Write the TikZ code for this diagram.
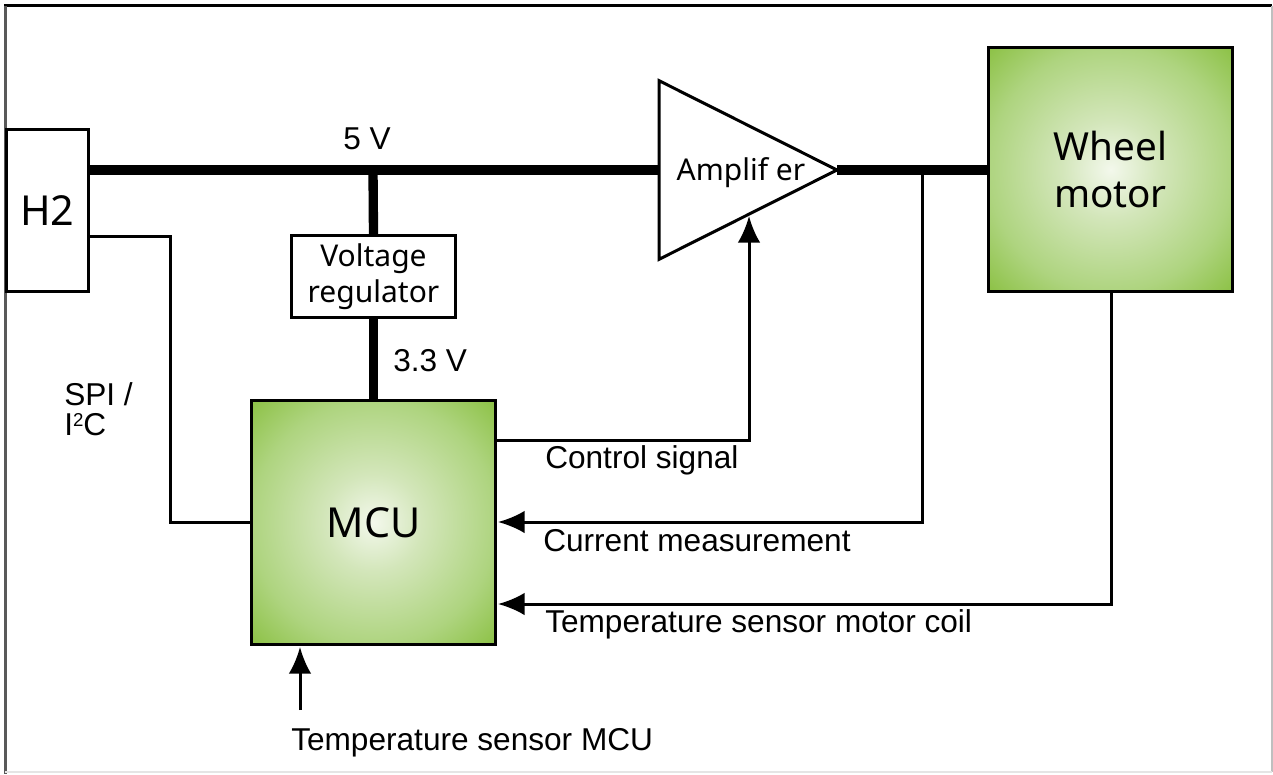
\documentclass[tikz,border=0pt]{standalone}
\usepackage{fontspec}
\setmainfont{Liberation Sans}
\newfontfamily\blockfont{Noto Sans}
\usetikzlibrary{shapes.geometric, arrows.meta, positioning, calc}
\definecolor{glow0}{HTML}{F3F8EC}
\definecolor{glow1}{HTML}{D3E6BA}
\definecolor{glow2}{HTML}{AED47F}
\definecolor{glow3}{HTML}{8CC145}
\pgfdeclareradialshading{greenglow}{\pgfpointorigin}{color(0bp)=(glow0); color(10bp)=(glow1); color(25bp)=(glow2); color(35.4bp)=(glow3); color(50bp)=(glow3)}
\tikzstyle{plainblock} = [rectangle, draw=black, line width=2.25pt, inner sep=0pt, align=center, fill=white]
\tikzstyle{greenblock} = [plainblock, shading=greenglow, minimum width=183pt, minimum height=183pt, font=\blockfont\fontsize{31}{35}\selectfont]
\tikzstyle{label} = [inner sep=0pt, anchor=west, font=\fontsize{23.7}{27}\selectfont]
\tikzstyle{power} = [line width=7pt]
\tikzstyle{signal} = [line width=2.25pt]
\tikzstyle{arrow} = [signal,-{Latex[length=20pt,width=17pt]}]

\begin{document}
\begin{tikzpicture}[x=0.75pt, y=-0.75pt]
\useasboundingbox (0,0) rectangle (1273,774);

% Frame
\draw [line width=2.25pt, black] (4,6) -- (1272,6);
\draw [line width=2.25pt, black!65] (5,6) -- (5,774);
\draw [line width=2pt, black!25] (1272,6) -- (1272,772);
\draw [line width=1.5pt, black!10] (5,772) -- (1272,772);

% Blocks
\node (mcu) [greenblock] at (373.5,522.5) {MCU};
\node (regulator) [plainblock, above=60pt of mcu, minimum width=123pt, minimum height=61.5pt, font=\fontsize{22.5}{27}\selectfont\blockfont] {Voltage\\regulator};
\node (h2) [plainblock, minimum width=61pt, minimum height=122pt, font=\blockfont\fontsize{31}{35}\selectfont] at (47.5,210.5) {H2};
\node (motor) [greenblock, font=\blockfont\fontsize{29}{35}\selectfont] at (1110.5,169.5) {Wheel\\motor};
\node (amp) [isosceles triangle, isosceles triangle apex angle=90, isosceles triangle stretches, draw=black, line width=2.25pt, inner sep=0pt, outer sep=0pt, fill=white, minimum width=134pt, minimum height=133.5pt, anchor=apex] at (837,170) {};
\node (amp_text) [inner sep=0pt, font=\fontsize{22.5}{26}\selectfont\blockfont] at (741,173) {Amplif er};

% Turning points
\coordinate (h2_out) at (h2.east |- 0,236);
\coordinate (spi_turn) at (170,236);
\coordinate (ctrl_out) at (mcu.east |- 0,440);
\coordinate (ctrl_turn) at (749,440);
\coordinate (ctrl_in) at (749,216);
\coordinate (sense_tap) at (922,170);
\coordinate (sense_turn) at (922,522);
\coordinate (coil_out) at (1111,292);
\coordinate (coil_turn) at (1111,604);
\coordinate (mcu_in1) at (498,522);
\coordinate (mcu_in2) at (498,604);
\coordinate (mcu_in3) at (300,647);
\coordinate (mcu_temp) at (300,710);

% Power lines
\draw [power] (h2.east |- 0,170) -- (amp.left corner |- 0,170);
\draw [power] (amp.apex) -- (motor.west |- 0,170);
\draw [power] (373,170) -- (regulator.north);
\draw [power] (regulator.south) -- (mcu.north);

% Signals
\draw [signal] (h2_out) -- (spi_turn) |- (mcu.west);
\draw [arrow] (ctrl_out) -- (ctrl_turn) -- (ctrl_in);
\draw [arrow] (sense_tap) -- (sense_turn) -- (mcu_in1);
\draw [arrow] (coil_out) -- (coil_turn) -- (mcu_in2);
\draw [arrow] (mcu_temp) -- (mcu_in3);

% Labels
\node (lbl_5v) [label] at (343,139) {5 V};
\node (lbl_33v) [label] at (393,361) {3.3 V};
\node (lbl_spi) [label] at (64,394) {SPI /};
\node (lbl_i2c) [label] at (64,425) {I\raisebox{0.55ex}{\fontsize{14}{14}\selectfont 2}C};
\node (lbl_ctrl) [label] at (545,460) {Control signal};
\node (lbl_sense) [label] at (543,541) {Current measurement};
\node (lbl_coil) [label] at (545,624) {Temperature sensor motor coil};
\node (lbl_temp) [label] at (291,743) {Temperature sensor MCU};

\end{tikzpicture}
\end{document}
